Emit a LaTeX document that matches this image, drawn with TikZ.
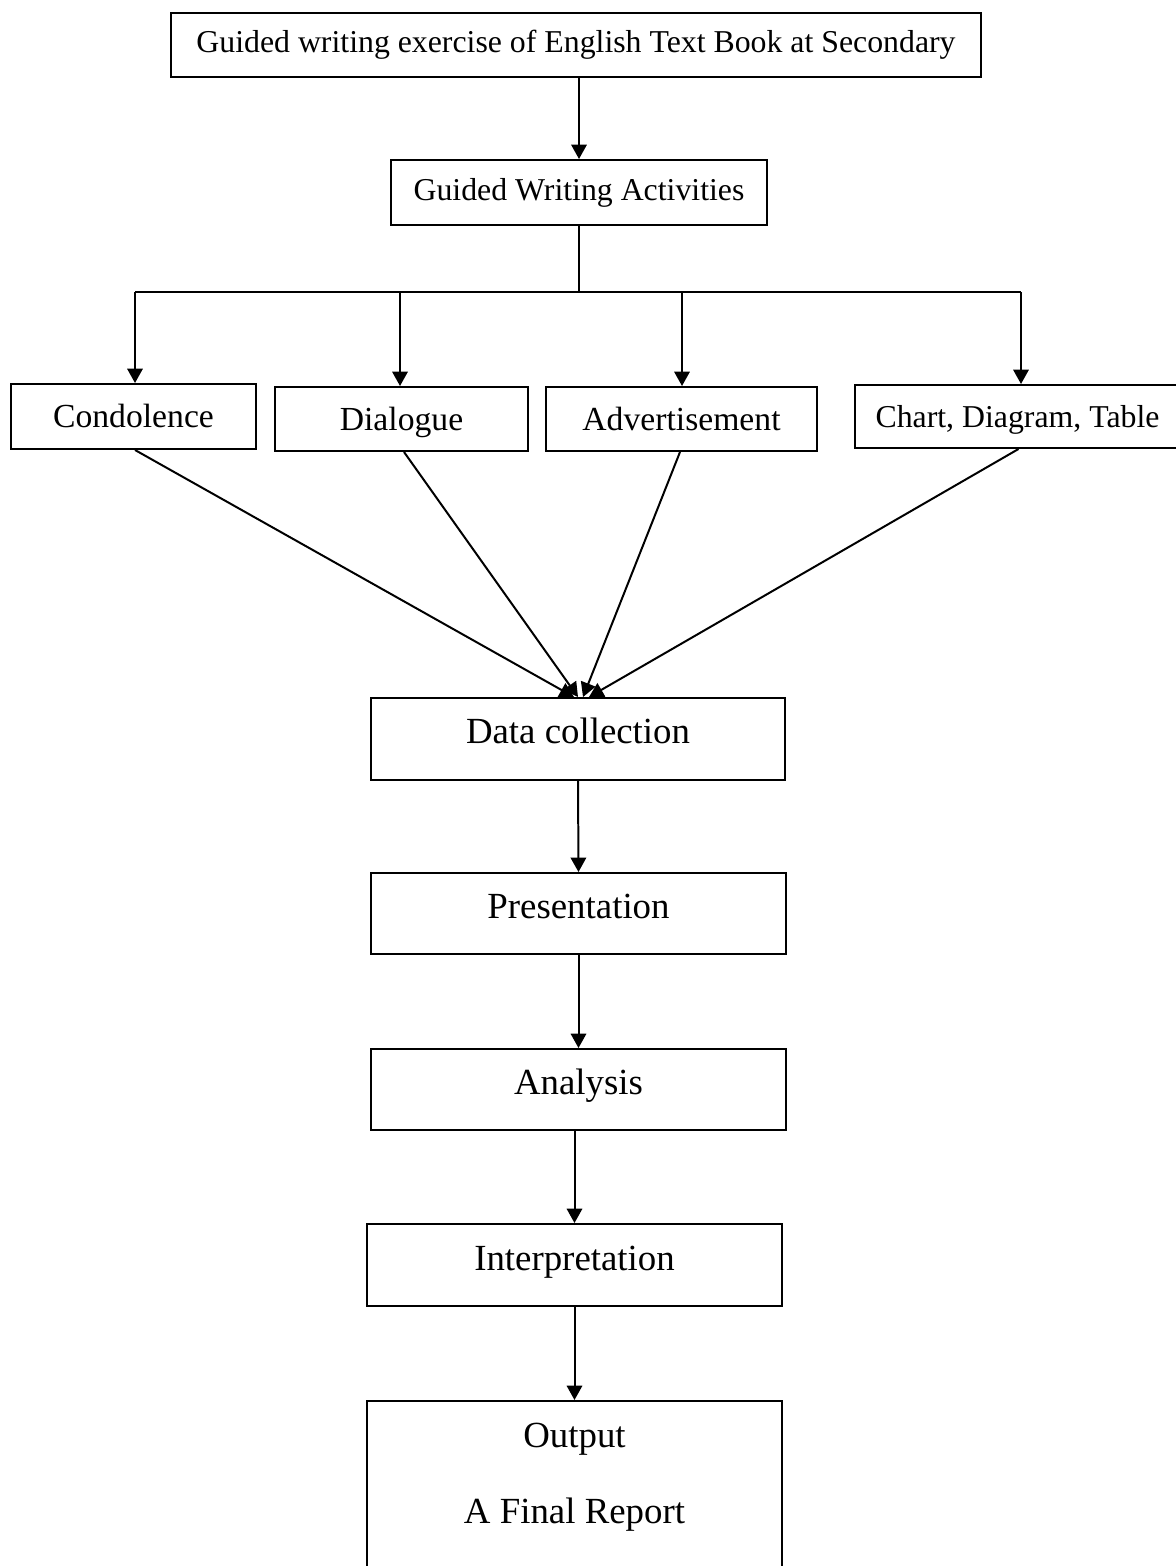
\documentclass[tikz,border=0pt]{standalone}
\usepackage{fontspec}
\setmainfont{Liberation Serif}
\usetikzlibrary{arrows.meta,calc}
\newdimen\px
\px=0.3773pt
\begin{document}
\begin{tikzpicture}[x=0.3773pt,y=-0.3773pt,
  bx/.style={draw, line width=0.75pt, inner sep=0pt, align=center},
  fsmall/.style={font=\fontsize{12}{14}\selectfont},
  fmid/.style={font=\fontsize{12.7}{15}\selectfont},
  fbig/.style={font=\fontsize{13.9}{16}\selectfont},
  arr/.style={line width=0.75pt, -{Triangle[length=5.4pt,width=5.8pt]}},
  ln/.style={line width=0.75pt}]
\useasboundingbox (0,0) rectangle (1176,1566);
% boxes
\node[bx,fsmall,minimum width=810\px,minimum height=64\px,text height=40\px,text depth=24\px] (top) at (576,45) {Guided writing exercise of English Text Book at Secondary};
\node[bx,fsmall,minimum width=376\px,minimum height=65\px,text height=40\px,text depth=25\px] (gwa) at (579,192.5) {Guided Writing Activities};
\node[bx,fmid,minimum width=245\px,minimum height=65\px,text height=43\px,text depth=22\px] (cond) at (133.5,416.5) {Condolence};
\node[bx,fmid,minimum width=253\px,minimum height=64\px,text height=43\px,text depth=21\px] (dia) at (401.5,419) {Dialogue};
\node[bx,fmid,minimum width=271\px,minimum height=64\px,text height=43\px,text depth=21\px] (adv) at (681.5,419) {Advertisement};
\node[bx,fsmall,minimum width=325\px,minimum height=63\px,text height=42\px,text depth=21\px] (chart) at (1017.5,416.5) {Chart, Diagram, Table};
\node[bx,fbig,minimum width=414\px,minimum height=82\px,text height=45\px,text depth=37\px] (dc) at (578,739) {Data collection};
\node[bx,fbig,minimum width=415\px,minimum height=81\px,text height=45\px,text depth=36\px] (pres) at (578.5,913.5) {Presentation};
\node[bx,fbig,minimum width=415\px,minimum height=81\px,text height=45\px,text depth=36\px] (ana) at (578.5,1089.5) {Analysis};
\node[bx,fbig,minimum width=415\px,minimum height=82\px,text height=46\px,text depth=36\px] (interp) at (574.5,1265) {Interpretation};
\node[bx,font=\fontsize{13.9}{28.67}\selectfont,minimum width=415\px,minimum height=170\px,text height=122\px,text depth=48\px,anchor=north] (out) at (574.5,1400) {Output\\A Final Report};
% connectors
\draw[arr] (gwa.north |- top.south) -- (gwa.north);
\coordinate (bus) at (579,292);
\coordinate (b1) at (135,292);
\coordinate (b2) at (400,292);
\coordinate (b3) at (682,292);
\coordinate (b4) at (1021,292);
\draw[ln] (gwa.south) -- (bus);
\draw[ln] (b1) -- (b4);
\draw[arr] (b1) -- (b1 |- cond.north);
\draw[arr] (b2) -- (b2 |- dia.north);
\draw[arr] (b3) -- (b3 |- adv.north);
\draw[arr] (b4) -- (b4 |- chart.north);
\draw[arr] ($(cond.south)+(1.5,0)$) -- ($(dc.north)+(-4,0)$);
\draw[arr] ($(dia.south)+(2.5,0)$) -- ($(dc.north)+(0,0)$);
\draw[arr] ($(adv.south)+(-1.5,0)$) -- ($(dc.north)+(5,0)$);
\draw[arr] ($(chart.south)+(1,0)$) -- ($(dc.north)+(11,0)$);
\draw[arr] (dc.south) -- (pres.north);
\draw[arr] (pres.south) -- (ana.north);
\draw[arr] (interp.north |- ana.south) -- (interp.north);
\draw[arr] (interp.south) -- (out.north);
\end{tikzpicture}
\end{document}
